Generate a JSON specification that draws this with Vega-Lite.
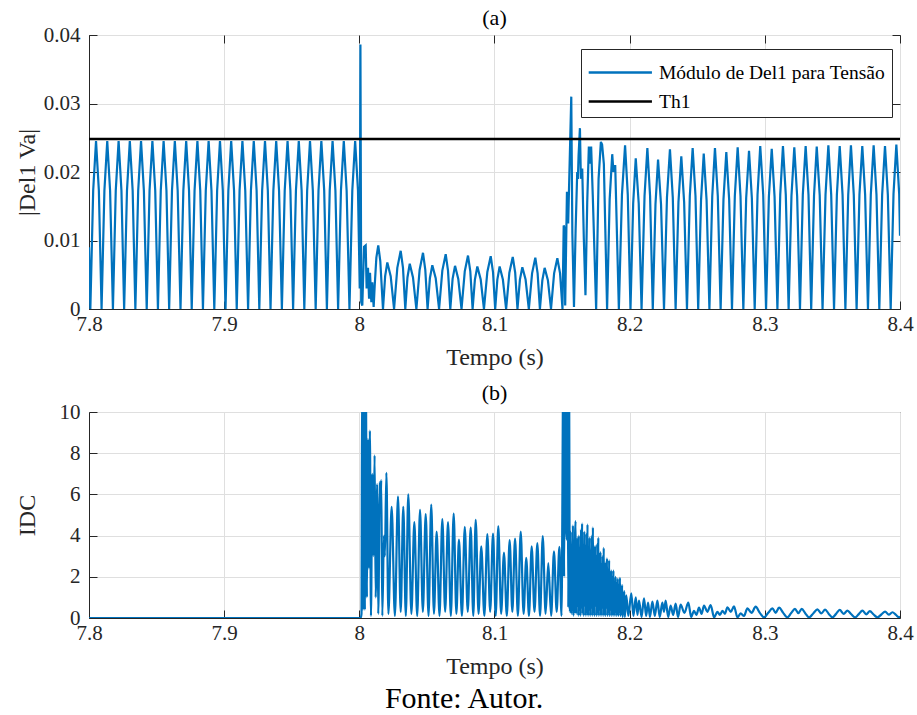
{
  "$schema": "https://vega.github.io/schema/vega-lite/v6.json",
  "padding": {"left": 14, "top": 6, "right": 10, "bottom": 0},
  "background": "white",
  "title": {"text": "Fonte: Autor.", "orient": "bottom", "anchor": "middle", "fontSize": 30, "font": "Liberation Serif", "fontWeight": "normal", "color": "#000000", "offset": 5},
  "datasets": {
    "a": [
      {"t":7.8,"v":0.009},{"t":7.801,"v":0},
      {"t":7.8031,"v":0.0173},{"t":7.8052,"v":0.0245},{"t":7.8073,"v":0.0173},{"t":7.8093,"v":0},
      {"t":7.8114,"v":0.0173},{"t":7.8135,"v":0.0245},{"t":7.8156,"v":0.0173},{"t":7.8177,"v":0},
      {"t":7.8198,"v":0.0173},{"t":7.8219,"v":0.0245},{"t":7.824,"v":0.0173},{"t":7.826,"v":0},
      {"t":7.8281,"v":0.0173},{"t":7.8302,"v":0.0245},{"t":7.8323,"v":0.0173},{"t":7.8343,"v":0},
      {"t":7.8364,"v":0.0173},{"t":7.8385,"v":0.0245},{"t":7.8406,"v":0.0173},{"t":7.8427,"v":0},
      {"t":7.8448,"v":0.0173},{"t":7.8469,"v":0.0245},{"t":7.849,"v":0.0173},{"t":7.851,"v":0},
      {"t":7.8531,"v":0.0173},{"t":7.8552,"v":0.0245},{"t":7.8573,"v":0.0173},{"t":7.8593,"v":0},
      {"t":7.8614,"v":0.0173},{"t":7.8635,"v":0.0245},{"t":7.8656,"v":0.0173},{"t":7.8677,"v":0},
      {"t":7.8698,"v":0.0173},{"t":7.8719,"v":0.0245},{"t":7.874,"v":0.0173},{"t":7.876,"v":0},
      {"t":7.8781,"v":0.0173},{"t":7.8802,"v":0.0245},{"t":7.8823,"v":0.0173},{"t":7.8843,"v":0},
      {"t":7.8864,"v":0.0173},{"t":7.8885,"v":0.0245},{"t":7.8906,"v":0.0173},{"t":7.8927,"v":0},
      {"t":7.8948,"v":0.0173},{"t":7.8969,"v":0.0245},{"t":7.899,"v":0.0173},{"t":7.901,"v":0},
      {"t":7.9031,"v":0.0173},{"t":7.9052,"v":0.0245},{"t":7.9073,"v":0.0173},{"t":7.9093,"v":0},
      {"t":7.9114,"v":0.0173},{"t":7.9135,"v":0.0245},{"t":7.9156,"v":0.0173},{"t":7.9177,"v":0},
      {"t":7.9198,"v":0.0173},{"t":7.9219,"v":0.0245},{"t":7.924,"v":0.0173},{"t":7.926,"v":0},
      {"t":7.9281,"v":0.0173},{"t":7.9302,"v":0.0245},{"t":7.9323,"v":0.0173},{"t":7.9343,"v":0},
      {"t":7.9364,"v":0.0173},{"t":7.9385,"v":0.0245},{"t":7.9406,"v":0.0173},{"t":7.9427,"v":0},
      {"t":7.9448,"v":0.0173},{"t":7.9469,"v":0.0245},{"t":7.949,"v":0.0173},{"t":7.951,"v":0},
      {"t":7.9531,"v":0.0173},{"t":7.9552,"v":0.0245},{"t":7.9573,"v":0.0173},{"t":7.9593,"v":0},
      {"t":7.9614,"v":0.0173},{"t":7.9635,"v":0.0245},{"t":7.9656,"v":0.0173},{"t":7.9677,"v":0},
      {"t":7.9698,"v":0.0173},{"t":7.9719,"v":0.0245},{"t":7.974,"v":0.0173},{"t":7.976,"v":0},
      {"t":7.9781,"v":0.0173},{"t":7.9802,"v":0.0245},{"t":7.9823,"v":0.0173},{"t":7.9843,"v":0},
      {"t":7.9864,"v":0.0173},{"t":7.9885,"v":0.0245},{"t":7.9906,"v":0.0173},{"t":7.9927,"v":0},
      {"t":7.9948,"v":0.0173},{"t":7.9969,"v":0.0245},{"t":7.999,"v":0.0173},{"t":8.0003,"v":0.003},
      {"t":8.0008,"v":0.0386},{"t":8.0014,"v":0.001},{"t":8.0022,"v":0.0005},{"t":8.0035,"v":0.0091},
      {"t":8.0047,"v":0.0093},{"t":8.0054,"v":0.003},{"t":8.0064,"v":0.006},{"t":8.0072,"v":0.0015},
      {"t":8.0079,"v":0.0053},{"t":8.0089,"v":0.001},{"t":8.0096,"v":0.0039},{"t":8.0106,"v":0.0003},
      {"t":8.0114,"v":0.0035},{"t":8.0126,"v":0.0075},{"t":8.014,"v":0.0093},{"t":8.0155,"v":0.007},
      {"t":8.0175,"v":0},
      {"t":8.0191,"v":0.0048},{"t":8.0207,"v":0.0068},{"t":8.0232,"v":0.0048},{"t":8.0257,"v":0},
      {"t":8.0281,"v":0.006},{"t":8.0306,"v":0.0085},{"t":8.0323,"v":0.006},{"t":8.034,"v":0},
      {"t":8.0356,"v":0.0046},{"t":8.0373,"v":0.0066},{"t":8.0397,"v":0.0046},{"t":8.0422,"v":0},
      {"t":8.0446,"v":0.0057},{"t":8.0471,"v":0.0082},{"t":8.0488,"v":0.0057},{"t":8.0505,"v":0},
      {"t":8.0522,"v":0.0045},{"t":8.054,"v":0.0064},{"t":8.0565,"v":0.0045},{"t":8.059,"v":0},
      {"t":8.0614,"v":0.0056},{"t":8.0639,"v":0.008},{"t":8.0656,"v":0.0056},{"t":8.0673,"v":0},
      {"t":8.069,"v":0.0044},{"t":8.0708,"v":0.0063},{"t":8.0732,"v":0.0044},{"t":8.0756,"v":0},
      {"t":8.078,"v":0.0055},{"t":8.0804,"v":0.0078},{"t":8.0821,"v":0.0055},{"t":8.0838,"v":0},
      {"t":8.0855,"v":0.0043},{"t":8.0873,"v":0.0062},{"t":8.0898,"v":0.0043},{"t":8.0922,"v":0},
      {"t":8.0947,"v":0.0054},{"t":8.0972,"v":0.0077},{"t":8.0989,"v":0.0054},{"t":8.1005,"v":0},
      {"t":8.1021,"v":0.0043},{"t":8.1038,"v":0.0062},{"t":8.1062,"v":0.0043},{"t":8.1086,"v":0},
      {"t":8.111,"v":0.0053},{"t":8.1135,"v":0.0076},{"t":8.1153,"v":0.0053},{"t":8.117,"v":0},
      {"t":8.1188,"v":0.0043},{"t":8.1206,"v":0.0061},{"t":8.123,"v":0.0043},{"t":8.1254,"v":0},
      {"t":8.1278,"v":0.0052},{"t":8.1302,"v":0.0075},{"t":8.1319,"v":0.0052},{"t":8.1336,"v":0},
      {"t":8.1354,"v":0.0042},{"t":8.1371,"v":0.006},{"t":8.1395,"v":0.0042},{"t":8.1418,"v":0},
      {"t":8.1441,"v":0.0052},{"t":8.1465,"v":0.0074},{"t":8.1485,"v":0.0052},{"t":8.1503,"v":0},
      {"t":8.1512,"v":0.0122},{"t":8.1518,"v":0.0118},{"t":8.1523,"v":0.0005},{"t":8.1536,"v":0.0171},
      {"t":8.1545,"v":0.0125},{"t":8.1568,"v":0.031},{"t":8.1576,"v":0.011},{"t":8.1588,"v":0.0003},
      {"t":8.16,"v":0.0115},{"t":8.1612,"v":0.02},{"t":8.1617,"v":0.019},{"t":8.1622,"v":0.0224},
      {"t":8.1632,"v":0.0264},{"t":8.1639,"v":0.019},{"t":8.1649,"v":0.0205},{"t":8.1661,"v":0.0102},
      {"t":8.1673,"v":0.002},{"t":8.1686,"v":0.0156},{"t":8.1698,"v":0.0237},{"t":8.1705,"v":0.0212},
      {"t":8.1715,"v":0.0237},{"t":8.1727,"v":0.0166},{"t":8.1752,"v":0},{"t":8.177,"v":0.019},
      {"t":8.1787,"v":0.0244},{"t":8.1796,"v":0.024},{"t":8.1809,"v":0.0212},{"t":8.1833,"v":0},
      {"t":8.1852,"v":0.016},{"t":8.1871,"v":0.0226},{"t":8.188,"v":0.02},{"t":8.1893,"v":0.021},
      {"t":8.192,"v":0},
      {"t":8.1943,"v":0.0167},{"t":8.1966,"v":0.0239},{"t":8.1986,"v":0.0167},{"t":8.2006,"v":0},
      {"t":8.2026,"v":0.0154},{"t":8.2045,"v":0.022},{"t":8.2067,"v":0.0154},{"t":8.2088,"v":0},
      {"t":8.211,"v":0.0165},{"t":8.2131,"v":0.0235},{"t":8.2151,"v":0.0165},{"t":8.2171,"v":0},
      {"t":8.2191,"v":0.0153},{"t":8.221,"v":0.0218},{"t":8.2232,"v":0.0153},{"t":8.2254,"v":0},
      {"t":8.2276,"v":0.0163},{"t":8.2298,"v":0.0233},{"t":8.2319,"v":0.0163},{"t":8.234,"v":0},
      {"t":8.2361,"v":0.0156},{"t":8.2382,"v":0.0223},{"t":8.2403,"v":0.0156},{"t":8.2424,"v":0},
      {"t":8.2445,"v":0.0165},{"t":8.2466,"v":0.0235},{"t":8.2487,"v":0.0165},{"t":8.2507,"v":0},
      {"t":8.2528,"v":0.0159},{"t":8.2548,"v":0.0227},{"t":8.2569,"v":0.0159},{"t":8.259,"v":0},
      {"t":8.2611,"v":0.0165},{"t":8.2631,"v":0.0235},{"t":8.2652,"v":0.0165},{"t":8.2673,"v":0},
      {"t":8.2694,"v":0.016},{"t":8.2715,"v":0.0229},{"t":8.2736,"v":0.016},{"t":8.2757,"v":0},
      {"t":8.2778,"v":0.0165},{"t":8.2799,"v":0.0236},{"t":8.282,"v":0.0165},{"t":8.2841,"v":0},
      {"t":8.2862,"v":0.0162},{"t":8.2883,"v":0.0231},{"t":8.2904,"v":0.0162},{"t":8.2925,"v":0},
      {"t":8.2946,"v":0.0167},{"t":8.2966,"v":0.0238},{"t":8.2988,"v":0.0167},{"t":8.3009,"v":0},
      {"t":8.303,"v":0.0164},{"t":8.3051,"v":0.0234},{"t":8.3072,"v":0.0164},{"t":8.3093,"v":0},
      {"t":8.3114,"v":0.0167},{"t":8.3134,"v":0.0238},{"t":8.3155,"v":0.0167},{"t":8.3176,"v":0},
      {"t":8.3197,"v":0.0165},{"t":8.3218,"v":0.0236},{"t":8.3239,"v":0.0165},{"t":8.326,"v":0},
      {"t":8.3281,"v":0.0167},{"t":8.3302,"v":0.0238},{"t":8.3323,"v":0.0167},{"t":8.3343,"v":0},
      {"t":8.3364,"v":0.0166},{"t":8.3384,"v":0.0237},{"t":8.3406,"v":0.0166},{"t":8.3427,"v":0},
      {"t":8.3449,"v":0.0167},{"t":8.347,"v":0.0239},{"t":8.3491,"v":0.0167},{"t":8.3512,"v":0},
      {"t":8.3533,"v":0.0167},{"t":8.3554,"v":0.0238},{"t":8.3575,"v":0.0167},{"t":8.3596,"v":0},
      {"t":8.3617,"v":0.0167},{"t":8.3637,"v":0.0239},{"t":8.3658,"v":0.0167},{"t":8.3679,"v":0},
      {"t":8.37,"v":0.0167},{"t":8.3721,"v":0.0238},{"t":8.3742,"v":0.0167},{"t":8.3763,"v":0},
      {"t":8.3784,"v":0.0167},{"t":8.3805,"v":0.0239},{"t":8.3826,"v":0.0167},{"t":8.3847,"v":0},
      {"t":8.3868,"v":0.0167},{"t":8.3889,"v":0.0238},{"t":8.391,"v":0.0167},{"t":8.3931,"v":0},
      {"t":8.3952,"v":0.0168},{"t":8.3973,"v":0.024},{"t":8.3994,"v":0.0168},{"t":8.4,"v":0.0107}
    ],
    "th": [{"t":7.8,"v":0.0248},{"t":8.4,"v":0.0248}],
    "b": [
      {"t":7.8,"v":0},{"t":8.001,"v":0},{"t":8.0016,"v":0.2},{"t":8.0021,"v":12},{"t":8.0027,"v":0.4},
      {"t":8.0034,"v":12},{"t":8.0041,"v":0.4},{"t":8.0048,"v":12},{"t":8.0056,"v":1.0},{"t":8.0064,"v":8.7},
      {"t":8.0071,"v":2.4},{"t":8.0078,"v":9.1},{"t":8.0086,"v":0.1},{"t":8.0096,"v":7.0},{"t":8.0103,"v":3.0},
      {"t":8.0113,"v":7.9},{"t":8.0121,"v":1.0},{"t":8.0132,"v":6.5},{"t":8.014,"v":0.2},{"t":8.0152,"v":6.6},
      {"t":8.0157,"v":5.5},{"t":8.0162,"v":6.7},{"t":8.017,"v":0.1},{"t":8.0182,"v":4.0},{"t":8.0189,"v":3.0},
      {"t":8.02,"v":7.05},{"t":8.0215,"v":0.2},
      {"t":8.0239,"v":5.4},{"t":8.0263,"v":0.1},{"t":8.0286,"v":5.9},{"t":8.0306,"v":0.3},{"t":8.0325,"v":5.4},
      {"t":8.0344,"v":0.1},{"t":8.0362,"v":6.0},{"t":8.0385,"v":0.2},{"t":8.0407,"v":4.65},{"t":8.0428,"v":0.1},
      {"t":8.0449,"v":5.25},{"t":8.047,"v":0.3},{"t":8.0491,"v":5.04},{"t":8.0512,"v":0.1},{"t":8.0532,"v":5.5},
      {"t":8.0552,"v":0.2},{"t":8.0572,"v":4.2},{"t":8.0593,"v":0.1},{"t":8.0614,"v":4.8},{"t":8.0635,"v":0.3},
      {"t":8.0656,"v":4.65},{"t":8.0677,"v":0.1},{"t":8.0698,"v":5.07},{"t":8.0718,"v":0.2},{"t":8.0737,"v":3.8},
      {"t":8.0759,"v":0.1},{"t":8.078,"v":4.42},{"t":8.0802,"v":0.3},{"t":8.0824,"v":4.4},{"t":8.0843,"v":0.1},
      {"t":8.0861,"v":4.76},{"t":8.0882,"v":0.2},{"t":8.0902,"v":3.48},{"t":8.0925,"v":0.1},{"t":8.0947,"v":4.07},
      {"t":8.0968,"v":0.3},{"t":8.0989,"v":4.1},{"t":8.1009,"v":0.1},{"t":8.1028,"v":4.46},{"t":8.1049,"v":0.2},
      {"t":8.107,"v":3.18},{"t":8.1091,"v":0.1},{"t":8.1112,"v":3.78},{"t":8.1132,"v":0.3},{"t":8.1152,"v":3.86},
      {"t":8.1173,"v":0.1},{"t":8.1194,"v":4.2},{"t":8.1215,"v":0.2},{"t":8.1235,"v":2.92},{"t":8.1255,"v":0.1},
      {"t":8.1275,"v":3.48},{"t":8.1296,"v":0.3},{"t":8.1317,"v":3.64},{"t":8.1337,"v":0.1},{"t":8.1357,"v":3.98},
      {"t":8.1378,"v":0.2},{"t":8.1398,"v":2.67},{"t":8.1419,"v":0.1},{"t":8.144,"v":3.23},{"t":8.146,"v":0.3},
      {"t":8.148,"v":3.45},{"t":8.1496,"v":0.1},{"t":8.1509,"v":12},{"t":8.1515,"v":2.0},{"t":8.1522,"v":12},
      {"t":8.153,"v":4.5},{"t":8.1535,"v":3.8},{"t":8.154,"v":12},{"t":8.1546,"v":0.5},{"t":8.1551,"v":12},
      {"t":8.1558,"v":0.3},{"t":8.1564,"v":4.2},{"t":8.1568,"v":0.2},{"t":8.1572,"v":2.8},{"t":8.1576,"v":0.4},
      {"t":8.158,"v":4.5},{"t":8.1584,"v":0.1},{"t":8.1588,"v":3.3},{"t":8.1592,"v":0.3},{"t":8.1596,"v":4.0},
      {"t":8.16,"v":4.7},{"t":8.1604,"v":0.2},{"t":8.1608,"v":2.2},{"t":8.1612,"v":0.6},{"t":8.1616,"v":3.9},
      {"t":8.162,"v":0.1},{"t":8.1624,"v":4.0},{"t":8.1628,"v":0.4},{"t":8.1632,"v":2.9},{"t":8.1636,"v":0.1},
      {"t":8.164,"v":4.3},{"t":8.1644,"v":0.5},{"t":8.1648,"v":4.6},{"t":8.1652,"v":0.2},{"t":8.1656,"v":3.0},
      {"t":8.166,"v":0.1},{"t":8.1664,"v":4.2},{"t":8.1668,"v":0.6},{"t":8.1672,"v":3.5},{"t":8.1676,"v":0.1},
      {"t":8.168,"v":4.1},{"t":8.1684,"v":0.3},{"t":8.1688,"v":4.55},{"t":8.1692,"v":0.1},{"t":8.1696,"v":2.6},
      {"t":8.17,"v":0.4},{"t":8.1704,"v":3.9},{"t":8.1708,"v":0.1},{"t":8.1712,"v":3.2},{"t":8.1716,"v":0.5},
      {"t":8.172,"v":4.0},{"t":8.1724,"v":0.1},{"t":8.1728,"v":4.4},{"t":8.1732,"v":0.3},{"t":8.1736,"v":2.4},
      {"t":8.174,"v":0.1},{"t":8.1744,"v":3.5},{"t":8.1748,"v":0.6},{"t":8.1752,"v":3.0},{"t":8.1756,"v":0.1},
      {"t":8.176,"v":3.6},{"t":8.1764,"v":0.3},{"t":8.1768,"v":3.9},{"t":8.1772,"v":0.1},{"t":8.1776,"v":2.2},
      {"t":8.178,"v":0.4},{"t":8.1784,"v":3.2},{"t":8.1788,"v":0.1},{"t":8.1792,"v":2.6},{"t":8.1796,"v":0.5},
      {"t":8.18,"v":3.0},{"t":8.1804,"v":0.1},{"t":8.1808,"v":3.4},{"t":8.1812,"v":0.2},{"t":8.1816,"v":1.8},
      {"t":8.182,"v":0.1},{"t":8.1824,"v":2.7},{"t":8.1828,"v":0.5},{"t":8.1832,"v":2.9},{"t":8.1836,"v":0.1},
      {"t":8.184,"v":2.2},{"t":8.1844,"v":0.3},{"t":8.1848,"v":2.8},{"t":8.1852,"v":0.1},{"t":8.1856,"v":1.6},
      {"t":8.186,"v":0.4},{"t":8.1864,"v":2.3},{"t":8.1868,"v":0.1},{"t":8.1872,"v":2.0},{"t":8.1876,"v":0.2},
      {"t":8.188,"v":2.3},{"t":8.1884,"v":0.1},{"t":8.1888,"v":1.4},{"t":8.1892,"v":0.3},{"t":8.1896,"v":2.0},
      {"t":8.19,"v":0.1},{"t":8.1904,"v":1.7},{"t":8.1908,"v":0.2},{"t":8.1912,"v":1.9},{"t":8.1916,"v":0.1},
      {"t":8.192,"v":1.2},{"t":8.1924,"v":0.3},{"t":8.1928,"v":1.95},{"t":8.1932,"v":0.1},{"t":8.1936,"v":1.5},
      {"t":8.194,"v":0.2},{"t":8.1944,"v":1.6},{"t":8.1948,"v":0.05},{"t":8.1952,"v":1.0},{"t":8.1956,"v":0.2},
      {"t":8.196,"v":1.3},{"t":8.1964,"v":0.05},
      {"t":8.1975,"v":1.1},{"t":8.199,"v":0.1},{"t":8.2012,"v":1.2},{"t":8.2028,"v":0.1},{"t":8.2045,"v":1.0},
      {"t":8.2058,"v":0.15},{"t":8.2069,"v":0.85},{"t":8.2088,"v":0.05},{"t":8.2106,"v":0.95},{"t":8.2122,"v":0.1},
      {"t":8.2136,"v":0.75},{"t":8.215,"v":0.05},{"t":8.2168,"v":0.8},{"t":8.2186,"v":0.1},{"t":8.2205,"v":0.85},
      {"t":8.2222,"v":0.05},{"t":8.2242,"v":0.75},{"t":8.2254,"v":0.3},{"t":8.2266,"v":0.85},{"t":8.2285,"v":0.05},
      {"t":8.2303,"v":0.6},{"t":8.2322,"v":0.15},{"t":8.234,"v":0.7},{"t":8.2358,"v":0.05},{"t":8.2377,"v":0.65},
      {"t":8.2405,"v":0.25},{"t":8.2434,"v":0.75},{"t":8.2455,"v":0.05},{"t":8.2476,"v":0.35},{"t":8.2494,"v":0.15},
      {"t":8.2513,"v":0.5},{"t":8.2532,"v":0.2},{"t":8.255,"v":0.6},{"t":8.2575,"v":0.3},{"t":8.2599,"v":0.63},
      {"t":8.2625,"v":0.03},{"t":8.2649,"v":0.3},{"t":8.2668,"v":0.15},{"t":8.2686,"v":0.35},{"t":8.2705,"v":0.2},
      {"t":8.2723,"v":0.52},{"t":8.2748,"v":0.3},{"t":8.2772,"v":0.57},{"t":8.2797,"v":0.03},{"t":8.2821,"v":0.22},
      {"t":8.2846,"v":0.1},{"t":8.2871,"v":0.47},{"t":8.2902,"v":0.25},{"t":8.2932,"v":0.55},{"t":8.2963,"v":0.25},
      {"t":8.2994,"v":0.03},{"t":8.3025,"v":0.25},{"t":8.3056,"v":0.47},{"t":8.308,"v":0.25},{"t":8.3105,"v":0.5},
      {"t":8.3136,"v":0.25},{"t":8.3167,"v":0.03},{"t":8.3195,"v":0.24},{"t":8.3223,"v":0.44},{"t":8.3248,"v":0.23},
      {"t":8.3273,"v":0.44},{"t":8.33,"v":0.22},{"t":8.3327,"v":0.03},{"t":8.3358,"v":0.22},{"t":8.3389,"v":0.42},
      {"t":8.3418,"v":0.22},{"t":8.3446,"v":0.41},{"t":8.3473,"v":0.2},{"t":8.35,"v":0.03},{"t":8.3527,"v":0.2},
      {"t":8.3554,"v":0.39},{"t":8.3583,"v":0.2},{"t":8.3611,"v":0.36},{"t":8.364,"v":0.18},{"t":8.3668,"v":0.03},
      {"t":8.3695,"v":0.19},{"t":8.3722,"v":0.36},{"t":8.375,"v":0.18},{"t":8.3777,"v":0.33},{"t":8.3805,"v":0.17},
      {"t":8.3833,"v":0.03},{"t":8.3862,"v":0.17},{"t":8.389,"v":0.31},{"t":8.3917,"v":0.16},{"t":8.3944,"v":0.28},
      {"t":8.397,"v":0.15},{"t":8.3994,"v":0.03},{"t":8.4,"v":0.08}
    ]
  },
  "vconcat": [
    {
      "width": 811,
      "height": 274,
      "title": {"text": "(a)", "fontSize": 22, "fontWeight": "normal", "color": "#000000", "offset": -6},
      "layer": [
        {
          "data": {"name": "a"},
          "mark": {"type": "line", "strokeWidth": 2.2, "clip": true},
          "encoding": {
            "x": {"field": "t", "type": "quantitative", "scale": {"domain": [7.8, 8.4], "nice": false, "zero": false},
                  "axis": {"title": "Tempo (s)", "values": [7.8, 7.9, 8, 8.1, 8.2, 8.3, 8.4], "format": "~g"}},
            "y": {"field": "v", "type": "quantitative", "scale": {"domain": [0, 0.04], "nice": false},
                  "axis": {"title": "|Del1 Va|", "values": [0, 0.01, 0.02, 0.03, 0.04], "format": "~g", "titleX": -50}},
            "color": {"datum": "Módulo de Del1 para Tensão", "type": "nominal",
                      "scale": {"domain": ["Módulo de Del1 para Tensão", "Th1"], "range": ["#0072BD", "#000000"]},
                      "legend": {"orient": "none", "legendX": 492, "legendY": 14, "title": null}}
          }
        },
        {
          "data": {"name": "th"},
          "mark": {"type": "line", "strokeWidth": 2.5},
          "encoding": {
            "x": {"field": "t", "type": "quantitative",
                  "axis": {"orient": "top", "title": null, "labels": false, "grid": false, "domain": false, "values": [7.8, 7.9, 8, 8.1, 8.2, 8.3, 8.4]}},
            "y": {"field": "v", "type": "quantitative",
                  "axis": {"orient": "right", "title": null, "labels": false, "grid": false, "domain": false, "values": [0, 0.01, 0.02, 0.03, 0.04]}},
            "color": {"datum": "Th1", "type": "nominal"}
          }
        }
      ],
      "resolve": {"axis": {"x": "independent", "y": "independent"}}
    },
    {
      "width": 811,
      "height": 206,
      "title": {"text": "(b)", "fontSize": 22, "fontWeight": "normal", "color": "#000000", "offset": -4},
      "data": {"name": "b"},
      "mark": {"type": "line", "strokeWidth": 2.2, "clip": true, "interpolate": "monotone", "color": "#0072BD"},
      "encoding": {
        "x": {"field": "t", "type": "quantitative", "scale": {"domain": [7.8, 8.4], "nice": false, "zero": false},
              "axis": {"title": "Tempo (s)", "values": [7.8, 7.9, 8, 8.1, 8.2, 8.3, 8.4], "format": "~g"}},
        "y": {"field": "v", "type": "quantitative", "scale": {"domain": [0, 10], "nice": false},
              "axis": {"title": "IDC", "values": [0, 2, 4, 6, 8, 10], "format": "d", "titleX": -50}}
      }
    }
  ],
  "spacing": 11,
  "config": {
    "font": "Liberation Serif",
    "view": {"stroke": "#262626", "strokeWidth": 1},
    "title": {"font": "Liberation Serif"},
    "axis": {
      "labelFont": "Liberation Serif", "titleFont": "Liberation Serif",
      "labelFontSize": 21, "titleFontSize": 24, "titleFontWeight": "normal",
      "labelColor": "#262626", "titleColor": "#262626",
      "domainColor": "#262626", "tickColor": "#262626", "gridColor": "#dfdfdf",
      "tickSize": -8, "titlePadding": 11,
      "labelFlush": false, "labelOverlap": false
    },
    "axisX": {"labelPadding": 12},
    "axisY": {"labelPadding": 17},
    "legend": {
      "labelFont": "Liberation Serif", "labelFontSize": 19.5, "labelColor": "#000000", "labelLimit": 0,
      "symbolType": "M-1,0H3", "symbolSize": 1000, "symbolStrokeWidth": 2.5,
      "strokeColor": "#262626", "fillColor": "#ffffff", "padding": 6, "rowPadding": 2, "labelOffset": 37
    }
  }
}
